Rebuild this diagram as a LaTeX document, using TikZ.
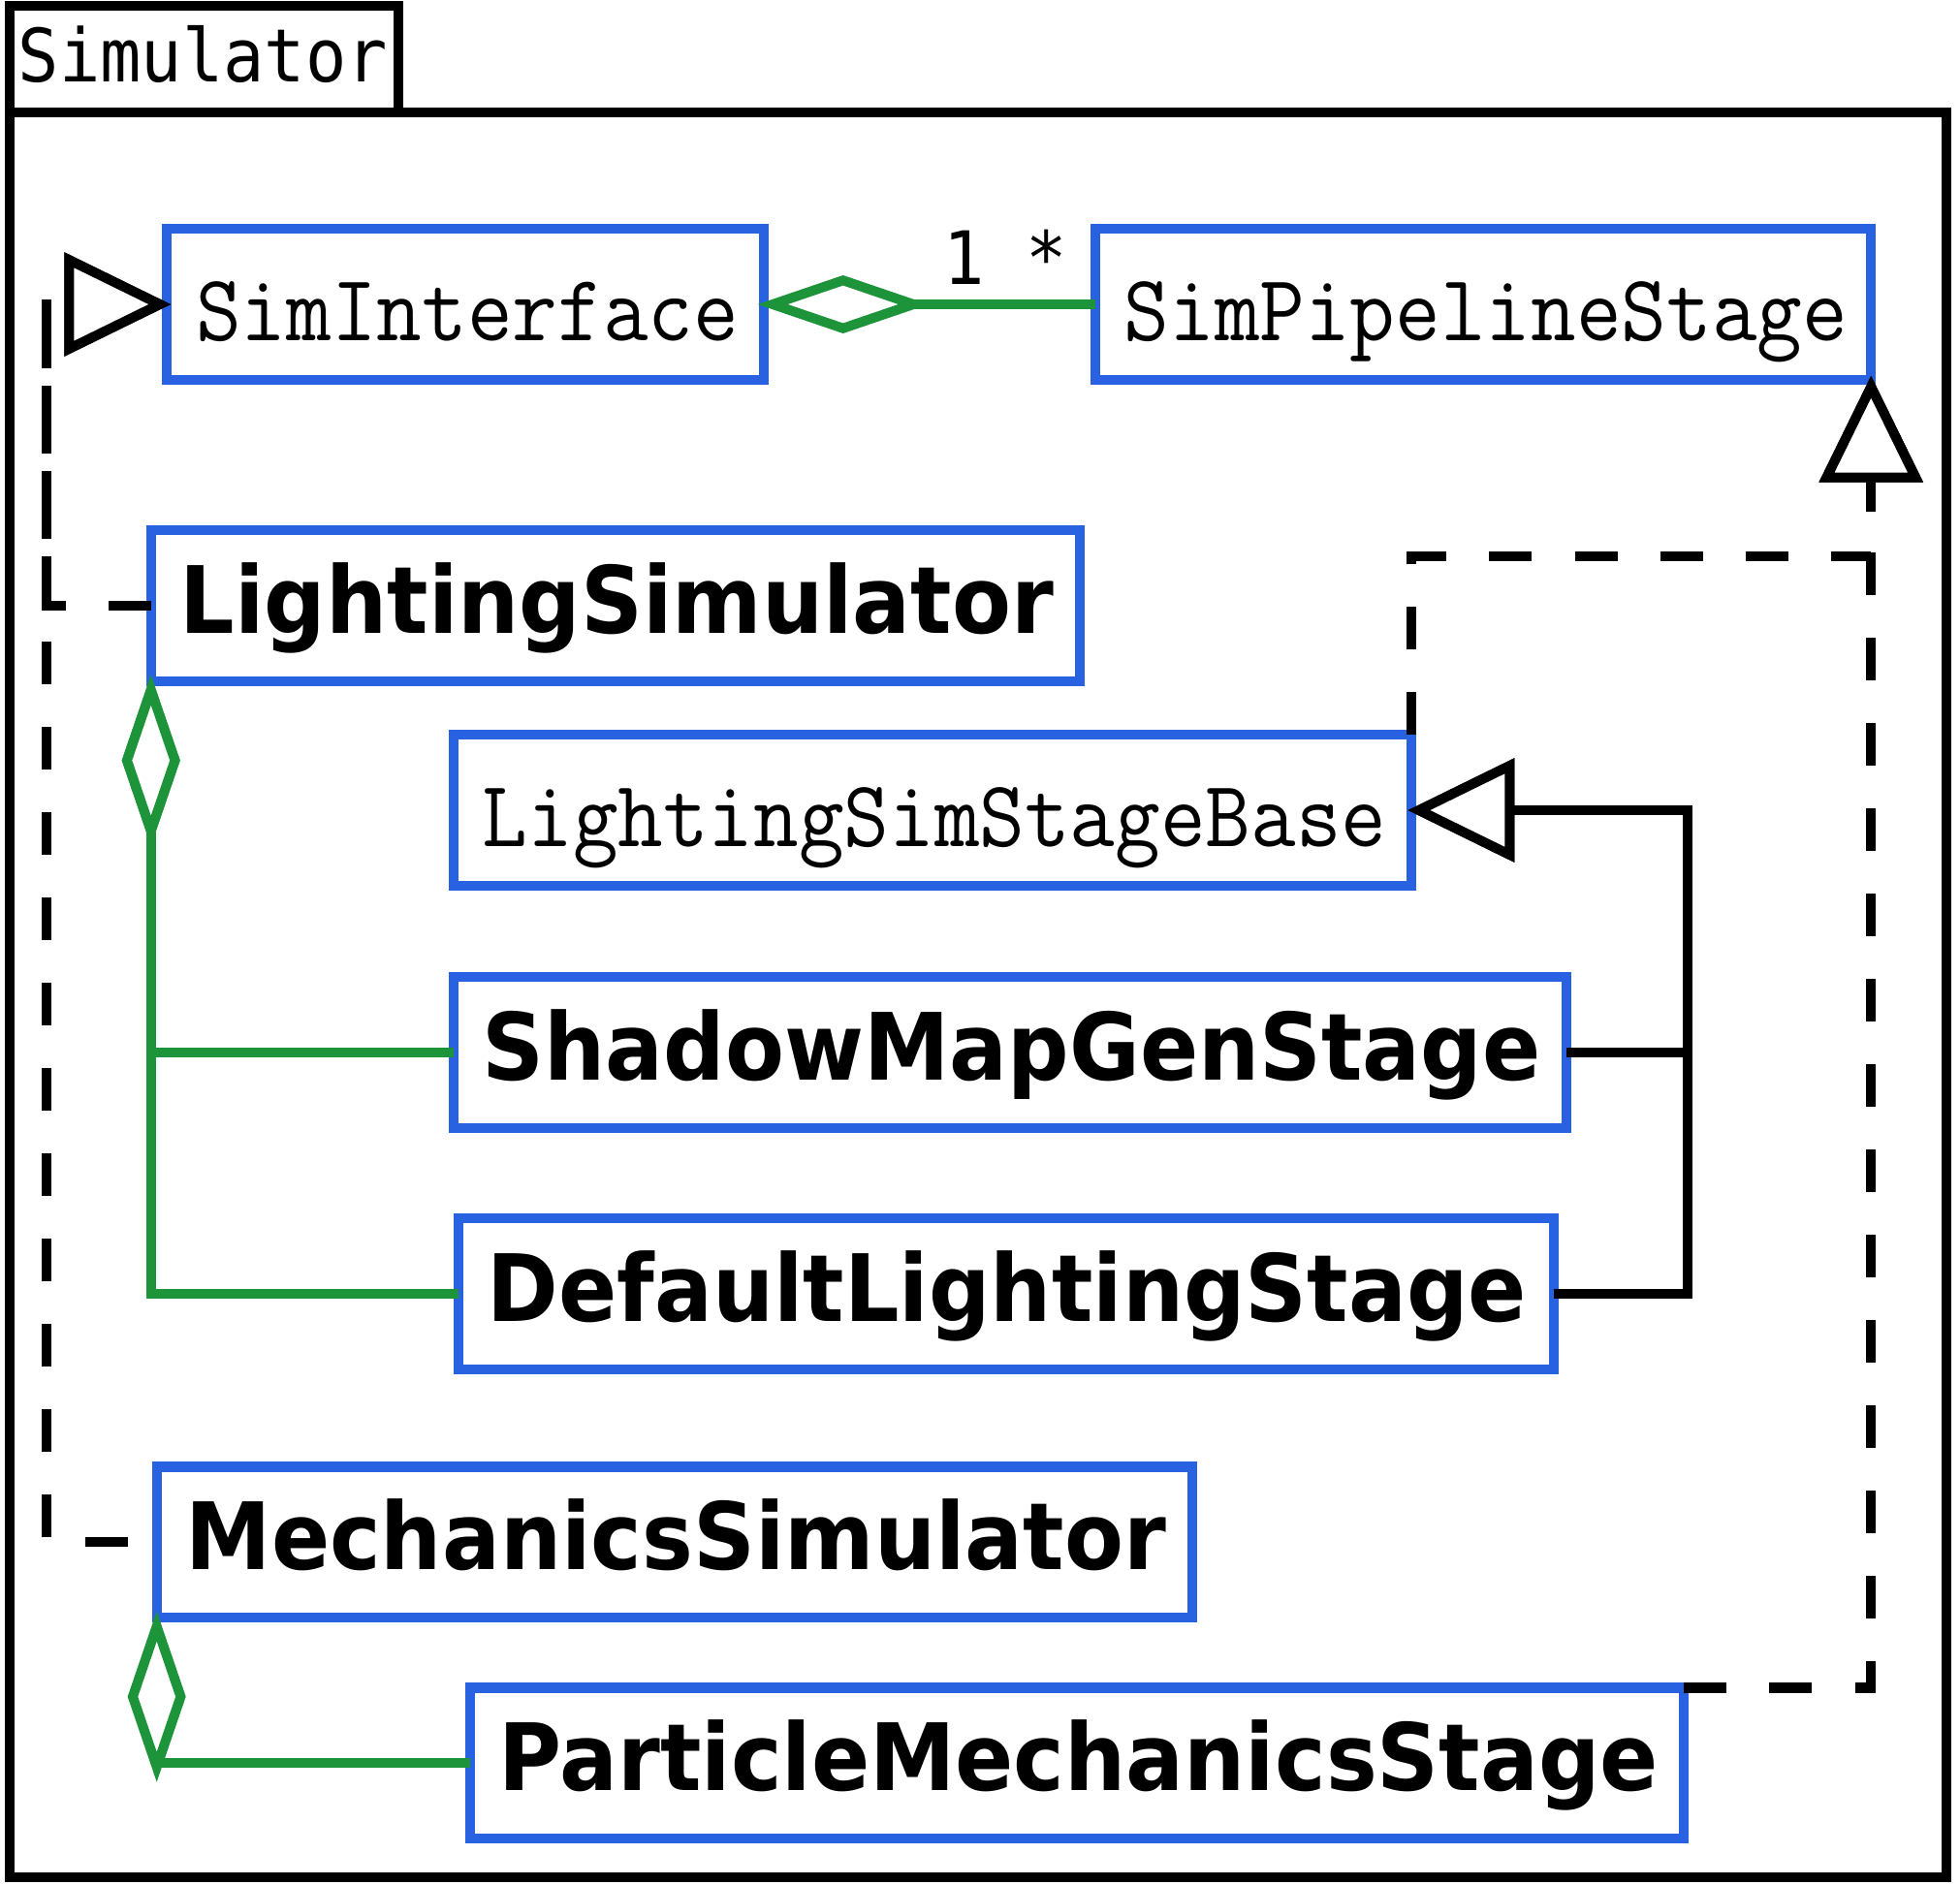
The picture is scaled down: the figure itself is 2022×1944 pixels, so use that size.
\documentclass[tikz,border=0pt]{standalone}
\usepackage{fontspec}
\usetikzlibrary{arrows.meta}
\newfontfamily\dvsans{DejaVu Sans}
\newfontfamily\dvmono{DejaVu Sans Mono}
\definecolor{umlblue}{RGB}{40,98,225}
\definecolor{umlgreen}{RGB}{30,148,58}
\newcommand{\tallt}[1]{\scalebox{1}[1.08]{#1}}

\tikzset{
  umlbox/.style={draw=umlblue, line width=1mm, fill=white, inner xsep=3mm, inner ysep=0pt,
    outer sep=0pt, align=left, minimum height=1.55cm, text depth=0pt},
  absname/.style={umlbox, font=\fontsize{25.75}{30}\selectfont\ttfamily, text height=0.74cm},
  conname/.style={umlbox, font=\fontsize{25.25}{30}\selectfont\dvsans\bfseries, text height=0.56cm},
  agg/.style={draw=umlgreen, line width=1mm, line join=miter, shorten >=-0.06cm,
    -{Diamond[open, length=1.76cm, width=0.6cm, fill=white]}},
  gen/.style={line width=1mm, line join=miter, shorten >=-0.04cm,
    -{Triangle[open, length=1.1cm, width=1.05cm, fill=white]}},
  real/.style={gen, dash pattern=on 0.44cm off 0.44cm},
  multlabel/.style={font=\fontsize{20}{24}\selectfont\dvmono, inner sep=0pt},
}

\begin{document}
\begin{tikzpicture}[x=0.01cm, y=-0.01cm]
  \useasboundingbox (0,0) rectangle (2022,1944);

  % Package frame
  \draw[line width=1mm] (10,6) rectangle (411,116);
  \draw[line width=1mm] (10,116) rectangle (2008,1937);
  \node[multlabel, anchor=base west] (pkg) at (18,84) {\tallt{Simulator}};

  % Classes
  \node[absname, text width=5.55cm] (si) at (480,314) {\tallt{SimInterface}};
  \node[absname, text width=7.4cm] (pipe) at (1530,314) {\tallt{SimPipelineStage}};
  \node[conname, text width=8.98cm] (ls) at (635,625) {\tallt{LightingSimulator}};
  \node[absname, text width=9.28cm] (lssb) at (962,836) {\tallt{LightingSimStageBase}};
  \node[conname, text width=10.88cm] (smg) at (1042,1086) {\tallt{ShadowMapGenStage}};
  \node[conname, text width=10.7cm] (dls) at (1038,1335) {\tallt{DefaultLightingStage}};
  \node[conname, text width=10.08cm] (ms) at (696,1591) {\tallt{MechanicsSimulator}};
  \node[conname, text width=11.92cm] (pms) at (1111,1819) {\tallt{ParticleMechanicsStage}};

  % Bends
  \coordinate (lbus) at ([xshift=-1.24cm]si.west);
  \coordinate (gbus) at ([xshift=2.85cm]lssb.east);

  % Aggregations
  \draw[agg] (pipe.west) -- (si.east);
  \node[multlabel, anchor=base] (mult) at (1037,293) {\tallt{1 *}};
  \draw[agg] (smg.west) -| (ls.south west);
  \draw[agg] (dls.west) -| (ls.south west);
  \draw[agg] (pms.west) -| (ms.south west);

  % Generalizations
  \draw[gen] (smg.east) -| (gbus) -- (lssb.east);
  \draw[gen] (dls.east) -| (gbus) -- (lssb.east);

  % Realizations
  \draw[real] (lssb.north east) -- ++(0,-184) -| (pipe.south east);
  \draw[real] (pms.north east) -| (pipe.south east);
  \draw[real] (ls.west) -| (lbus) -- (si.west);
  \draw[real, dash phase=0.58cm] (ms.west) -| (lbus) -- (si.west);
\end{tikzpicture}
\end{document}
